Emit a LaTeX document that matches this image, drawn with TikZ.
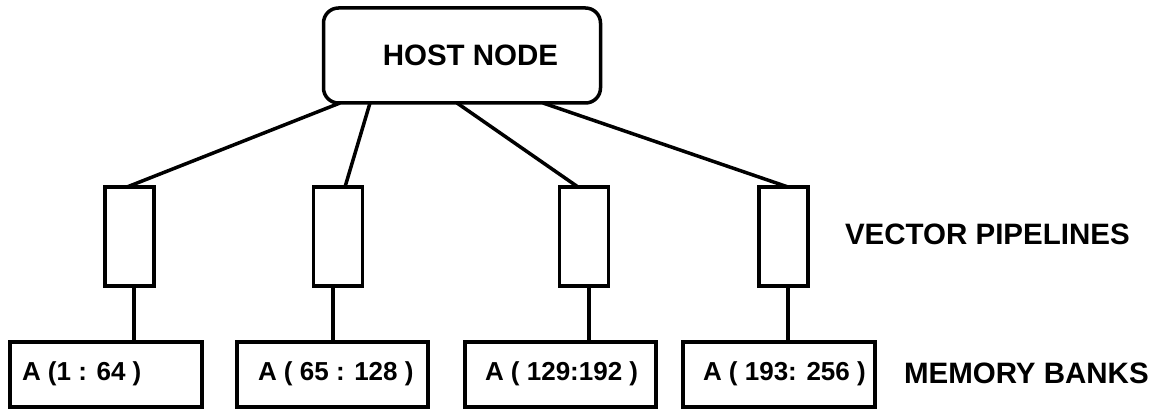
\documentclass[tikz,border=0pt]{standalone}
\usepackage{fontspec}
\setmainfont{Liberation Sans}
\usetikzlibrary{calc}
\begin{document}
\begin{tikzpicture}[x=1pt,y=-1pt,
  every node/.style={inner sep=0pt, outer sep=0pt},
  box/.style={draw, line width=3.5pt, rectangle},
  hostbox/.style={box, rounded corners=15pt, minimum width=277pt, minimum height=95pt},
  pipe/.style={box, minimum width=49pt, minimum height=99pt},
  bank/.style={box, minimum height=65pt},
  big/.style={font=\bfseries\fontsize{29.5}{32}\selectfont},
  banktext/.style={anchor=west, font=\bfseries\fontsize{26}{28}\selectfont},
  wire/.style={line width=3.5pt}
]
\useasboundingbox (0,0) rectangle (1160,409);
% host
\node[hostbox] (host) at (462,55.5) {};
\node[big] (hosttext) at (470.5,55) {HOST NODE};
% pipelines
\node[pipe] (p1) at (129.5,236.5) {};
\node[pipe] (p2) at (338,236.5) {};
\node[pipe] (p3) at (584,236.5) {};
\node[pipe] (p4) at (783.5,236.5) {};
% banks
\node[bank, minimum width=192pt] (b1) at (106,374.5) {};
\node[bank, minimum width=191pt] (b2) at (332.5,374.5) {};
\node[bank, minimum width=191pt] (b3) at (560.5,374.5) {};
\node[bank, minimum width=192pt] (b4) at (779,374.5) {};
\node[banktext] (t1) at ($(b1.west)+(12,-1)$) {A (1 : 64 )};
\node[banktext] (t2) at ($(b2.west)+(21,-1)$) {A ( 65 : 128 )};
\node[banktext] (t3) at ($(b3.west)+(20,-1)$) {A ( 129:192 )};
\node[banktext] (t4) at ($(b4.west)+(20,-1)$) {A ( 193: 256 )};
% labels
\node[big, anchor=west] (vp) at (845,234) {VECTOR PIPELINES};
\node[big, anchor=west] (mb) at (904,373) {MEMORY BANKS};
% host connectors
\draw[wire] ([xshift=-122pt]host.south) -- ([xshift=-2.5pt]p1.north);
\draw[wire] ([xshift=-92pt]host.south) -- ([xshift=7pt]p2.north);
\draw[wire] ([xshift=-5pt]host.south) -- ([xshift=-6pt]p3.north);
\draw[wire] ([xshift=81pt]host.south) -- ([xshift=4.5pt]p4.north);
% pipe to bank
\draw[wire] ([xshift=4.5pt]p1.south) -- ([xshift=4.5pt]p1.south |- b1.north);
\draw[wire] ([xshift=-5pt]p2.south) -- ([xshift=-5pt]p2.south |- b2.north);
\draw[wire] ([xshift=5pt]p3.south) -- ([xshift=5pt]p3.south |- b3.north);
\draw[wire] ([xshift=4.5pt]p4.south) -- ([xshift=4.5pt]p4.south |- b4.north);
\end{tikzpicture}
\end{document}
